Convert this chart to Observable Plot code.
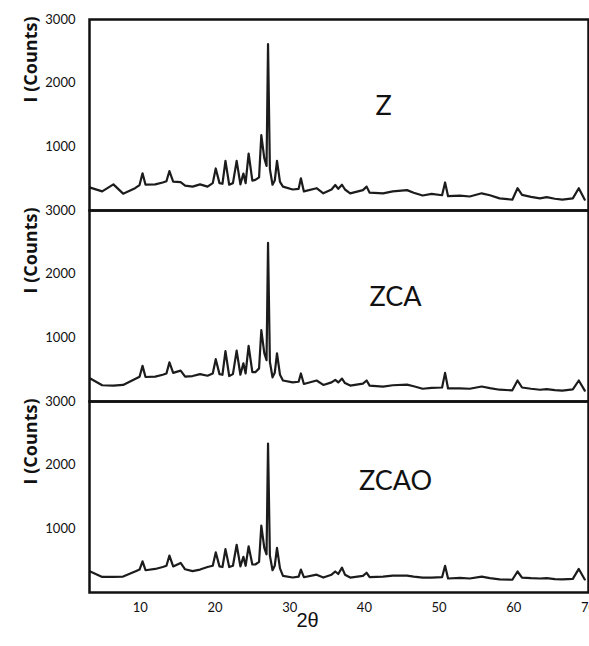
<!DOCTYPE html>
<html>
<head>
<meta charset="utf-8">
<script src="https://cdn.jsdelivr.net/npm/d3@7"></script>
<script src="https://cdn.jsdelivr.net/npm/@observablehq/plot@0.6"></script>
<style>
  html, body { margin: 0; padding: 0; background: #fff; }
  #chart svg { display: block; }
</style>
</head>
<body>
<div id="chart"></div>
<script>
// ---- Data ----
const samples = ["Z", "ZCA", "ZCAO"];

const twoTheta = [
  3.3, 4.9, 6.4, 7.7, 9.3, 9.9, 10.3, 10.7, 12.0, 13.0, 13.5, 13.9, 14.4, 15.4, 16.0,
  17.0, 18.0, 19.0, 19.7, 20.1, 20.6, 21.0, 21.4, 21.9, 22.4, 22.9, 23.4, 23.8, 24.1,
  24.5, 25.0, 25.4, 25.9, 26.2, 26.6, 26.9, 27.1, 27.35, 27.7, 28.0, 28.3, 28.7, 29.1,
  30.4, 31.2, 31.5, 31.9, 33.6, 34.5, 35.6, 36.1, 36.5, 37.0, 37.4, 38.1, 39.8, 40.3,
  40.7, 42.5, 43.8, 45.7, 46.6, 47.8, 49.0, 50.4, 50.8, 51.2, 52.8, 54.1, 55.7, 56.8,
  58.1, 59.8, 60.5, 61.1, 62.3, 63.5, 64.4, 65.5, 66.5, 67.9, 68.7, 69.5
];

const zCounts = [
  360, 300, 410, 265, 350, 400, 585, 405, 410, 440, 460, 620, 455, 445, 390,
  375, 410, 375, 430, 660, 430, 420, 780, 405, 430, 780, 410, 580, 430,
  895, 470, 480, 520, 1185, 820, 700, 2615, 650, 405, 470, 780, 450, 375,
  330, 340, 505, 300, 350, 270, 330, 400, 340, 405, 330, 270, 320, 375,
  280, 270, 300, 320, 280, 235, 260, 240, 440, 225, 235, 220, 270, 240,
  190, 170, 350, 245, 215, 190, 210, 185, 170, 190, 350, 170
];

const zcaCounts = [
  360, 255, 250, 260, 355, 390, 560, 385, 390, 420, 440, 615, 450, 485, 390,
  400, 430, 405, 440, 665, 430, 420, 790, 400, 430, 800, 420, 600, 440,
  875, 460, 460, 520, 1120, 760, 650, 2490, 620, 380, 450, 755, 420, 330,
  300, 310, 440, 275, 330, 260, 300, 340, 300, 360, 290, 250, 280, 330,
  250, 235, 255, 265, 240, 200, 215, 220, 450, 205, 205, 200, 235, 210,
  185, 175, 330, 220, 200, 185, 195, 180, 170, 190, 330, 170
];

const zcaoCounts = [
  330, 245, 245, 250, 330, 360, 490, 350, 370, 400, 420, 580, 410, 465, 365,
  335, 360, 400, 420, 630, 410, 400, 680, 400, 420, 750, 410, 560, 420,
  725, 440, 440, 480, 1050, 700, 600, 2340, 580, 350, 420, 700, 380, 260,
  235, 250, 360, 240, 280, 235, 280, 330, 290, 390, 280, 235, 260, 310,
  240, 250, 265, 265, 250, 235, 235, 240, 420, 220, 230, 220, 250, 225,
  205, 200, 330, 235, 225, 220, 225, 210, 205, 215, 370, 205
];

const yTicks = [1000, 2000, 3000];
const xTicks = [10, 20, 30, 40, 50, 60, 70];
const yLabel = "I (Counts)";
const xLabel = "2θ";

// ---- Build long table ----
const seriesBySample = { Z: zCounts, ZCA: zcaCounts, ZCAO: zcaoCounts };
const rows = samples.flatMap(s =>
  twoTheta.map((t, i) => ({ sample: s, t, I: seriesBySample[s][i] }))
);

const panelLabel = (name, dx, dy) =>
  Plot.text([name], {
    fy: d => d, text: d => d,
    frameAnchor: "top", lineAnchor: "middle",
    dx, dy, fontSize: 27, fill: "#111",
    fontFamily: "Lato, 'Liberation Sans', sans-serif"
  });

const chart = Plot.plot({
  width: 589,
  height: 646,
  marginTop: 18,
  marginBottom: 53,
  marginLeft: 89,
  marginRight: 1,
  style: { fontFamily: "Lato, 'Liberation Sans', sans-serif", background: "#fff", color: "#111" },
  x: { domain: [3.2, 70] },
  y: { domain: [0, 3000] },
  fy: { domain: samples, padding: 0, axis: null },
  marks: [
    Plot.line(rows, { x: "t", y: "I", fy: "sample", stroke: "#1c1c1c", strokeWidth: 2.2, strokeLinejoin: "round" }),
    Plot.frame({ stroke: "#111", strokeWidth: 2.5 }),
    Plot.axisY(yTicks, { tickSize: 0, tickPadding: 14, fontSize: 13, tickFormat: d => String(d), label: null }),
    Plot.axisX(xTicks, { tickSize: 0, tickPadding: 10, fontSize: 13, tickFormat: d => String(d), label: null }),
    Plot.text([yLabel], {
      frameAnchor: "top-left", rotate: -90, textAnchor: "end",
      dx: -65, dy: -3, fontWeight: "bold", fontSize: 18, fill: "#111",
      fontFamily: "'Open Sans', Lato, sans-serif"
    }),
    panelLabel("Z", 44.5, 87),
    panelLabel("ZCA", 56.5, 87),
    panelLabel("ZCAO", 56.5, 80),
    Plot.text([xLabel], {
      fy: () => "ZCAO", text: d => d,
      frameAnchor: "bottom", lineAnchor: "middle",
      dx: -31.5, dy: 28, fontSize: 20, fill: "#111",
      fontFamily: "'Liberation Sans', Arial, sans-serif"
    })
  ]
});

document.getElementById("chart").appendChild(chart);
</script>
</body>
</html>
